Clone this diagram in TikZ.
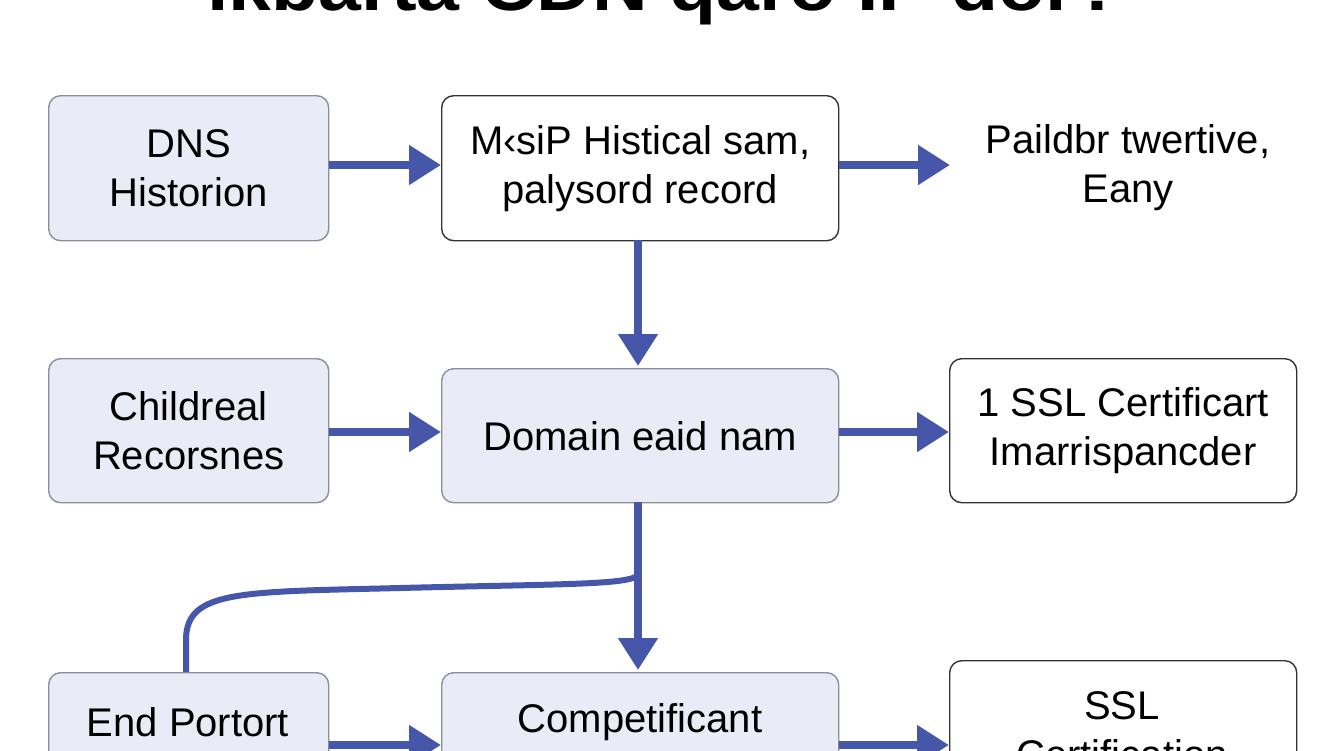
\documentclass[tikz,border=0pt]{standalone}
\usepackage{fontspec}
\setmainfont{Liberation Sans}
\usetikzlibrary{arrows.meta}
\definecolor{boxfill}{HTML}{E9ECF6}
\definecolor{boxline}{HTML}{8A8F9A}
\definecolor{arr}{HTML}{4656A8}
\begin{document}
\begin{tikzpicture}[x=1pt,y=-1pt,
  box/.style={draw=boxline,line width=1.4pt,rounded corners=12pt,fill=boxfill},
  wbox/.style={draw=black!80,line width=1.4pt,rounded corners=12pt,fill=white},
  txt/.style={align=center,font=\fontsize{40}{49}\selectfont,inner sep=0pt},
  ar/.style={draw=arr,line width=8pt,-{Triangle[length=32pt,width=38pt]}},
  ln/.style={draw=arr,line width=6pt}]
\useasboundingbox (0,0) rectangle (1344,750);
\clip (0,0) rectangle (1344,750);
\fill[white] (0,0) rectangle (1344,750);
\node[font=\bfseries\fontsize{70}{78}\selectfont,anchor=base,inner sep=0pt,xscale=1.1] (title) at (665,10) {ikbarta CDN qaro IP dor?};
\node[box,minimum width=280pt,minimum height=145pt,anchor=north west] (a) at (48,95) {};
\node[txt] at (a.center) {DNS\\Historion};
\node[wbox,minimum width=397pt,minimum height=145pt,anchor=north west] (b) at (441,95) {};
\node[txt] at (b.center) {M‹siP Histical sam,\\palysord record};
\node[txt] (c) at (1128,168) {Paildbr twertive,\\Eany};
\node[box,minimum width=280pt,minimum height=144pt,anchor=north west] (d) at (48,358) {};
\node[txt] at (d.center) {Childreal\\Recorsnes};
\node[box,minimum width=397pt,minimum height=134pt,anchor=north west] (e) at (441,368) {};
\node[txt] at (e.center) {Domain eaid nam};
\node[wbox,minimum width=347pt,minimum height=144pt,anchor=north west] (f) at (949,358) {};
\node[txt] at (f.center) {1 SSL Certificart\\Imarrispancder};
\node[box,minimum width=280pt,minimum height=140pt,anchor=north west] (g) at (48,672) {};
\node[txt] at (188,722) {End Portort};
\node[box,minimum width=397pt,minimum height=140pt,anchor=north west] (h) at (441,672) {};
\node[txt] at (640,722) {Competificant};
\node[wbox,minimum width=347pt,minimum height=150pt,anchor=north west] (i) at (949,660) {};
\node[txt] at (1122,730) {SSL\\Certification};
\draw[ar] (a.east |- 0,165) -- (b.west |- 0,165);
\draw[ar] (b.east |- 0,165) -- (950,165);
\draw[ar] (638,240) -- (638,366);
\draw[ar] (d.east |- 0,432) -- (e.west |- 0,432);
\draw[ar] (e.east |- 0,432) -- (f.west |- 0,432);
\draw[ar] (638,502) -- (638,670);
\coordinate (j) at (638,575);
\draw[ln] (186,672) -- (186,640) .. controls (186,590) and (240,592) .. (400,588) .. controls (560,584) and (630,585) .. (j);
\draw[ar] (g.east |- 0,745) -- (h.west |- 0,745);
\draw[ar] (h.east |- 0,745) -- (i.west |- 0,745);
\end{tikzpicture}
\end{document}
